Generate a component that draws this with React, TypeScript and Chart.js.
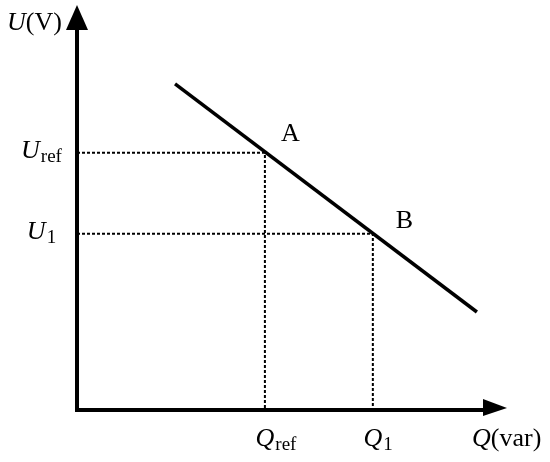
import React, { useEffect, useRef } from "react";
import { Chart, registerables } from "chart.js";

Chart.register(...registerables);

// Droop characteristic line (Q in arbitrary units, U in arbitrary units)
const LINE_Q = [2.28, 9.3];
const LINE_U = [8.05, 2.42];

// Operating points
const POINT_NAMES = ["A", "B"];
const POINT_Q = [4.37, 6.88];
const POINT_U = [6.35, 4.35];

// Tick labels: [main italic letter, subscript]
const U_TICK_LABELS = [["U", "ref"], ["U", "1"]];
const Q_TICK_LABELS = [["Q", "ref"], ["Q", "1"]];

// Axis titles: [italic part, upright part]
const Y_TITLE = ["U", "(V)"];
const X_TITLE = ["Q", "(var)"];

const AXIS_MIN = 0;
const AXIS_MAX = 10;

const FONT_FAMILY = "'Liberation Serif', 'Times New Roman', serif";
const MAIN_SIZE = 26;
const SUB_SIZE = 19;

function drawSubLabel(ctx: CanvasRenderingContext2D, main: string, sub: string, x: number, baseline: number, align: "center" | "mainCenter") {
  ctx.font = `italic ${MAIN_SIZE}px ${FONT_FAMILY}`;
  const mw = ctx.measureText(main).width;
  ctx.font = `${SUB_SIZE}px ${FONT_FAMILY}`;
  const sw = ctx.measureText(sub).width;
  let start: number;
  if (align === "center") start = x - (mw + sw) / 2;
  else start = x - mw / 2;
  ctx.textAlign = "left";
  ctx.textBaseline = "alphabetic";
  ctx.font = `italic ${MAIN_SIZE}px ${FONT_FAMILY}`;
  ctx.fillText(main, start, baseline);
  ctx.font = `${SUB_SIZE}px ${FONT_FAMILY}`;
  ctx.fillText(sub, start + mw + 1, baseline + 4);
}

function drawTitle(ctx: CanvasRenderingContext2D, it: string, up: string, x: number, baseline: number) {
  ctx.textAlign = "left";
  ctx.textBaseline = "alphabetic";
  ctx.font = `italic ${MAIN_SIZE}px ${FONT_FAMILY}`;
  const iw = ctx.measureText(it).width;
  ctx.fillText(it, x, baseline);
  ctx.font = `${MAIN_SIZE}px ${FONT_FAMILY}`;
  ctx.fillText(up, x + iw, baseline);
}

const overlayPlugin = {
  id: "overlay",
  afterDatasetsDraw(chart: any) {
    const { ctx, chartArea, scales } = chart;
    const { left, right, top, bottom } = chartArea;
    const xs = scales.x;
    const ys = scales.y;
    ctx.save();
    ctx.strokeStyle = "#000";
    ctx.fillStyle = "#000";
    // axes
    ctx.lineWidth = 4;
    ctx.lineJoin = "miter";
    ctx.lineCap = "butt";
    ctx.beginPath();
    ctx.moveTo(left, top + 20);
    ctx.lineTo(left, bottom);
    ctx.lineTo(right - 20, bottom);
    ctx.stroke();
    // y arrow
    ctx.beginPath();
    ctx.moveTo(left, top);
    ctx.lineTo(left - 11, top + 25);
    ctx.lineTo(left + 11, top + 25);
    ctx.closePath();
    ctx.fill();
    // x arrow
    ctx.beginPath();
    ctx.moveTo(right, bottom - 2);
    ctx.lineTo(right - 24, bottom - 11);
    ctx.lineTo(right - 24, bottom + 6);
    ctx.closePath();
    ctx.fill();

    // axis titles
    drawTitle(ctx, Y_TITLE[0], Y_TITLE[1], left - 70, top + 25);
    drawTitle(ctx, X_TITLE[0], X_TITLE[1], right - 35, bottom + 36);

    // tick labels
    POINT_U.forEach((u, i) => {
      const py = ys.getPixelForValue(u);
      drawSubLabel(ctx, U_TICK_LABELS[i][0], U_TICK_LABELS[i][1], left - 36, py + 5, "center");
    });
    POINT_Q.forEach((q, i) => {
      const px = xs.getPixelForValue(q);
      drawSubLabel(ctx, Q_TICK_LABELS[i][0], Q_TICK_LABELS[i][1], px, bottom + 36, "mainCenter");
    });

    // point names
    ctx.font = `${MAIN_SIZE}px ${FONT_FAMILY}`;
    ctx.textAlign = "left";
    ctx.textBaseline = "alphabetic";
    const offsets = [[16, -12], [23, -6]];
    POINT_NAMES.forEach((n, i) => {
      const px = xs.getPixelForValue(POINT_Q[i]);
      const py = ys.getPixelForValue(POINT_U[i]);
      ctx.fillText(n, px + offsets[i][0], py + offsets[i][1]);
    });
    ctx.restore();
  },
};

export default function App() {
  const ref = useRef<HTMLCanvasElement>(null);
  useEffect(() => {
    document.body.style.margin = "0";
    const canvas = ref.current;
    if (!canvas) return;
    const guides = POINT_Q.map((q, i) => ({
      data: [
        { x: AXIS_MIN, y: POINT_U[i] },
        { x: q, y: POINT_U[i] },
        { x: q, y: AXIS_MIN },
      ],
      showLine: true,
      borderColor: "#000",
      borderWidth: 2,
      borderDash: [3, 2],
      pointRadius: 0,
      fill: false,
      tension: 0,
    }));
    const chart = new Chart(canvas, {
      type: "scatter",
      data: {
        datasets: [
          ...guides,
          {
            data: LINE_Q.map((q, i) => ({ x: q, y: LINE_U[i] })),
            showLine: true,
            borderColor: "#000",
            borderWidth: 3.5,
            pointRadius: 0,
            fill: false,
            tension: 0,
          },
        ],
      },
      options: {
        animation: false,
        responsive: false,
        events: [],
        layout: { padding: { left: 77, right: 43, top: 5, bottom: 52 } },
        plugins: { legend: { display: false }, tooltip: { enabled: false } },
        scales: {
          x: { type: "linear", min: AXIS_MIN, max: AXIS_MAX, display: false },
          y: { type: "linear", min: AXIS_MIN, max: AXIS_MAX, display: false },
        },
      } as any,
      plugins: [overlayPlugin],
    });
    return () => chart.destroy();
  }, []);
  return (
    <div style={{ width: 550, height: 462, background: "#fff" }}>
      <canvas ref={ref} width={550} height={462} style={{ display: "block" }} />
    </div>
  );
}
